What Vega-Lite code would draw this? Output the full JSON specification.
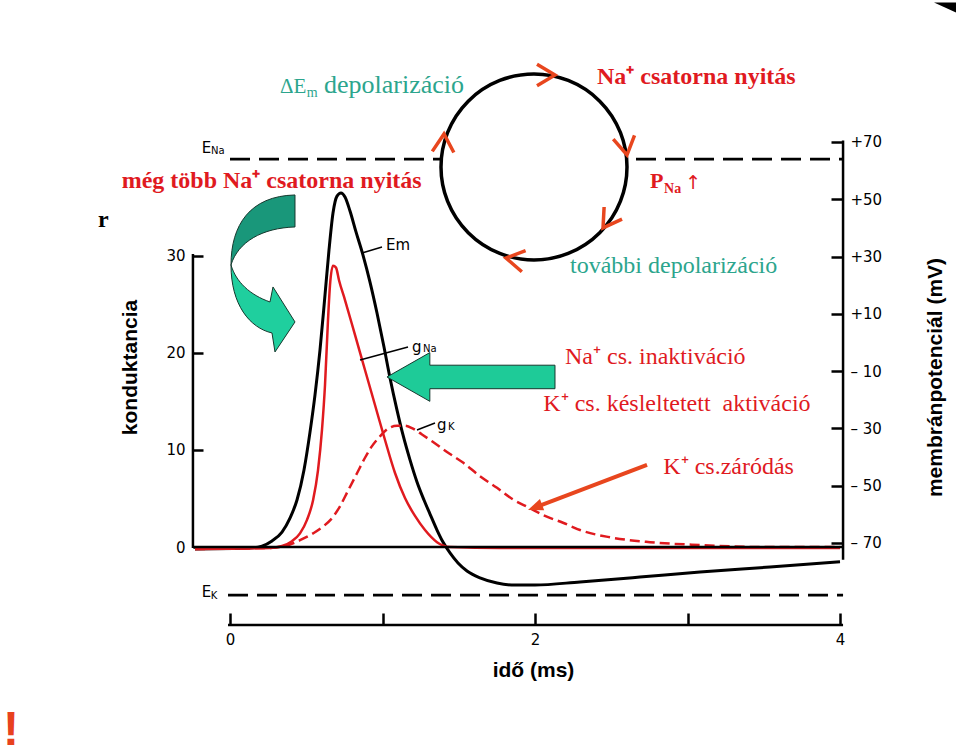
{
  "$schema": "https://vega.github.io/schema/vega-lite/v6.json",
  "width": 959,
  "height": 751,
  "autosize": {"type": "none"},
  "padding": 0,
  "background": "white",
  "config": {"view": {"stroke": null}},
  "encoding": {
    "x": {
      "field": "t", "type": "quantitative",
      "scale": {"domain": [-1.5082, 4.7803], "nice": false, "zero": false},
      "axis": {
        "orient": "bottom", "offset": -126, "values": [0, 1, 2, 3, 4],
        "domain": false, "grid": false,
        "tickSize": -12, "tickWidth": 2.5, "tickColor": "black",
        "labelExpr": "datum.value % 2 === 0 ? datum.label : ''",
        "labelFont": "DejaVu Sans", "labelFontSize": 15, "labelColor": "black",
        "labelPadding": 19, "labelOverlap": false, "labelFlush": false, "labelBaseline": "top",
        "title": "idő (ms)", "titleFont": "Liberation Sans", "titleFontSize": 21,
        "titleFontWeight": "bold", "titleColor": "black",
        "titleX": 533, "titleY": 45, "titleAlign": "center", "titleBaseline": "middle", "titleAngle": 0
      }
    }
  },
  "layer": [
    {
      "encoding": {
        "y": {
          "field": "mV", "type": "quantitative",
          "scale": {"domain": [-142.64, 119.58], "nice": false, "zero": false},
          "axis": {
            "orient": "right", "offset": -116,
            "values": [-70, -50, -30, -10, 10, 30, 50, 70],
            "domain": false, "grid": false,
            "tickSize": -12, "tickWidth": 2.5, "tickColor": "black",
            "labelExpr": "datum.value > 0 ? '+' + datum.value : '– ' + abs(datum.value)",
            "labelFont": "DejaVu Sans", "labelFontSize": 15, "labelColor": "black",
            "labelPadding": 19, "labelOverlap": false, "labelFlush": false,
            "title": "membránpotenciál (mV)", "titleFont": "Liberation Sans", "titleFontSize": 21,
            "titleFontWeight": "bold", "titleColor": "black",
            "titleX": 92, "titleY": 377, "titleAngle": 270, "titleAlign": "center", "titleBaseline": "middle"
          }
        }
      },
      "layer": [
        {
          "data": {"values": [
            {"t": 0, "t2": 4.02, "mV": 64, "name": "ENa"},
            {"t": -0.013, "t2": 4.02, "mV": -88.2, "name": "EK"}
          ]},
          "mark": {"type": "rule", "color": "black", "strokeWidth": 2.8, "strokeDash": [20, 9]},
          "encoding": {"x2": {"field": "t2"}}
        },
        {
          "data": {"values": [{"t": 4.02, "mV": 70.5, "mV2": -75.9}]},
          "mark": {"type": "rule", "color": "black", "strokeWidth": 2.5},
          "encoding": {"y2": {"field": "mV2"}}
        },
        {
          "data": {"values": [
            {"t": -0.2295, "mV": -72.1}, {"t": 0.1311, "mV": -71.8}, {"t": 0.2098, "mV": -71.1},
            {"t": 0.2754, "mV": -69.3}, {"t": 0.341, "mV": -66.2}, {"t": 0.3934, "mV": -61.3},
            {"t": 0.4393, "mV": -55.0}, {"t": 0.4852, "mV": -44.5}, {"t": 0.5246, "mV": -31.3},
            {"t": 0.5574, "mV": -18.3}, {"t": 0.5902, "mV": -2.6}, {"t": 0.623, "mV": 16.6},
            {"t": 0.6492, "mV": 32.3}, {"t": 0.6754, "mV": 45.2}, {"t": 0.7016, "mV": 51.1},
            {"t": 0.7279, "mV": 52.2}, {"t": 0.7541, "mV": 50.8}, {"t": 0.7869, "mV": 45.9},
            {"t": 0.8262, "mV": 38.6}, {"t": 0.8721, "mV": 30.5}, {"t": 0.918, "mV": 21.1},
            {"t": 0.9639, "mV": 10.3}, {"t": 1.0098, "mV": -1.6}, {"t": 1.0492, "mV": -12.4},
            {"t": 1.0951, "mV": -23.6}, {"t": 1.1344, "mV": -32.3}, {"t": 1.1803, "mV": -41.0},
            {"t": 1.2262, "mV": -48.7}, {"t": 1.2721, "mV": -55.0}, {"t": 1.3115, "mV": -59.9},
            {"t": 1.3574, "mV": -65.5}, {"t": 1.3967, "mV": -69.7}, {"t": 1.4426, "mV": -73.5},
            {"t": 1.4951, "mV": -77.0}, {"t": 1.5541, "mV": -79.8}, {"t": 1.6393, "mV": -82.2},
            {"t": 1.7508, "mV": -84.0}, {"t": 1.8689, "mV": -84.7}, {"t": 2.0, "mV": -84.7},
            {"t": 2.2951, "mV": -83.6}, {"t": 2.6885, "mV": -81.9}, {"t": 3.082, "mV": -80.1},
            {"t": 3.541, "mV": -78.4}, {"t": 4.0, "mV": -76.6}
          ]},
          "mark": {"type": "line", "color": "black", "strokeWidth": 3, "interpolate": "monotone"},
          "encoding": {}
        }
      ]
    },
    {
      "encoding": {
        "y": {
          "field": "g", "type": "quantitative",
          "scale": {"domain": [-21.03, 56.39], "nice": false, "zero": false},
          "axis": {
            "orient": "left", "offset": -193, "values": [0, 10, 20, 30],
            "domain": false, "grid": false,
            "tickSize": -10, "tickWidth": 2.5, "tickColor": "black",
            "labelFont": "DejaVu Sans", "labelFontSize": 15, "labelColor": "black",
            "labelPadding": 18, "labelOverlap": false, "labelFlush": false,
            "title": "konduktancia", "titleFont": "Liberation Sans", "titleFontSize": 21,
            "titleFontWeight": "bold", "titleColor": "black",
            "titleX": -63, "titleY": 367, "titleAngle": 270, "titleAlign": "center", "titleBaseline": "middle"
          }
        }
      },
      "layer": [
        {
          "data": {"values": [
            {"t": -0.2295, "g": -0.2}, {"t": 0.2623, "g": -0.1}, {"t": 0.341, "g": 0.1},
            {"t": 0.4066, "g": 0.6}, {"t": 0.459, "g": 1.4}, {"t": 0.5049, "g": 2.8},
            {"t": 0.5443, "g": 4.8}, {"t": 0.577, "g": 7.9}, {"t": 0.6033, "g": 12.1},
            {"t": 0.623, "g": 16.7}, {"t": 0.6426, "g": 23.4}, {"t": 0.6557, "g": 27.0},
            {"t": 0.6754, "g": 29.0}, {"t": 0.6951, "g": 28.8}, {"t": 0.7148, "g": 27.5},
            {"t": 0.7541, "g": 25.46}, {"t": 0.8197, "g": 21.86}, {"t": 0.8852, "g": 18.25},
            {"t": 0.9508, "g": 14.64}, {"t": 1.0164, "g": 11.03}, {"t": 1.082, "g": 7.63},
            {"t": 1.1475, "g": 5.05}, {"t": 1.2131, "g": 3.2}, {"t": 1.2787, "g": 1.75},
            {"t": 1.3574, "g": 0.5}, {"t": 1.4426, "g": 0.0}, {"t": 1.7705, "g": -0.1},
            {"t": 4.0, "g": -0.1}
          ]},
          "mark": {"type": "line", "color": "#e01a1f", "strokeWidth": 2.5, "interpolate": "monotone"},
          "encoding": {}
        },
        {
          "data": {"values": [
            {"t": -0.2295, "g": -0.2}, {"t": 0.2623, "g": -0.1}, {"t": 0.3607, "g": 0.1},
            {"t": 0.459, "g": 0.7}, {"t": 0.5443, "g": 1.4}, {"t": 0.6098, "g": 2.1},
            {"t": 0.6754, "g": 3.1}, {"t": 0.7213, "g": 4.2}, {"t": 0.7738, "g": 5.8},
            {"t": 0.8328, "g": 7.6}, {"t": 0.8852, "g": 9.2}, {"t": 0.9311, "g": 10.4},
            {"t": 0.9836, "g": 11.4}, {"t": 1.036, "g": 12.2}, {"t": 1.0951, "g": 12.5},
            {"t": 1.1475, "g": 12.5}, {"t": 1.2, "g": 12.2}, {"t": 1.259, "g": 11.6},
            {"t": 1.3246, "g": 10.9}, {"t": 1.423, "g": 9.8}, {"t": 1.5279, "g": 8.7},
            {"t": 1.6393, "g": 7.3}, {"t": 1.7508, "g": 6.1}, {"t": 1.8557, "g": 4.9},
            {"t": 1.9541, "g": 4.1}, {"t": 2.0656, "g": 3.2}, {"t": 2.1836, "g": 2.5},
            {"t": 2.2951, "g": 1.75}, {"t": 2.4918, "g": 1.0}, {"t": 2.7541, "g": 0.5},
            {"t": 3.082, "g": 0.2}, {"t": 3.4754, "g": 0.0}, {"t": 4.0, "g": 0.0}
          ]},
          "mark": {"type": "line", "color": "#e01a1f", "strokeWidth": 2.5, "strokeDash": [10, 5], "interpolate": "monotone"},
          "encoding": {}
        },
        {
          "data": {"values": [
            {"t": -0.243, "t2": 4.02, "g": 0, "name": "baseline"},
            {"t": -0.013, "t2": 4.02, "g": -8.04, "name": "time axis"}
          ]},
          "mark": {"type": "rule", "color": "black", "strokeWidth": 2.5},
          "encoding": {"x2": {"field": "t2"}}
        },
        {
          "data": {"values": [{"t": -0.243, "g": -0.1, "g2": 30.2}]},
          "mark": {"type": "rule", "color": "black", "strokeWidth": 2.5},
          "encoding": {"y2": {"field": "g2"}}
        },
        {
          "data": {"values": [{"t": 1.9934, "g": 39.18}]},
          "mark": {"type": "point", "shape": "circle", "size": 34596, "filled": true, "fill": "white", "stroke": "black", "strokeWidth": 3.5, "opacity": 1},
          "encoding": {}
        },
        {
          "data": {"values": [
            {"t": 2.1311, "g": 48.66, "dir": 0},
            {"t": 2.6033, "g": 40.41, "dir": 80},
            {"t": 2.4459, "g": 32.89, "dir": 124},
            {"t": 1.8098, "g": 29.79, "dir": 190},
            {"t": 1.4033, "g": 42.58, "dir": 273}
          ]},
          "mark": {"type": "point", "shape": "M-1,-0.6L0,0L-1,0.6", "size": 1296, "filled": false, "color": "#e8461e", "strokeWidth": 3.5, "opacity": 1},
          "encoding": {"angle": {"field": "dir", "type": "quantitative", "scale": null}}
        },
        {
          "data": {"values": [{"t": 0.2098, "g": 28.25}]},
          "mark": {"type": "point", "shape": "M-0.3875,-0.1C-0.3875,0.4,-0.15,0.6875,0.125,0.75L0.1625,0.9875L0.4125,0.6125L0.1375,0.175L0.1,0.3625C-0.15,0.275,-0.325,0.1125,-0.3875,-0.1Z", "size": 25600, "filled": true, "fill": "#1fcf9e", "stroke": "#17382e", "strokeWidth": 1, "opacity": 1},
          "encoding": {}
        },
        {
          "data": {"values": [{"t": 0.2098, "g": 28.25}]},
          "mark": {"type": "point", "shape": "M0.4125,-0.975C-0.15,-0.9625,-0.3875,-0.6,-0.3875,-0.1C-0.3,-0.3875,0,-0.5625,0.4125,-0.575Z", "size": 25600, "filled": true, "fill": "#19977a", "stroke": "#17382e", "strokeWidth": 1, "opacity": 1},
          "encoding": {}
        },
        {
          "data": {"values": [{"t": 1.5803, "g": 17.53}]},
          "mark": {"type": "point", "shape": "M-1,0L-0.49,-0.29L-0.49,-0.14L1,-0.14L1,0.14L-0.49,0.14L-0.49,0.29Z", "size": 28224, "filled": true, "fill": "#1ecb98", "stroke": "#17382e", "strokeWidth": 1, "opacity": 1},
          "encoding": {}
        },
        {
          "data": {"values": [{"t": 2.7344, "g": 8.454, "t2": 2.0066, "g2": 4.12}]},
          "mark": {"type": "rule", "color": "#e8461e", "strokeWidth": 4},
          "encoding": {"x2": {"field": "t2"}, "y2": {"field": "g2"}}
        },
        {
          "data": {"values": [{"t": 1.9541, "g": 3.814, "dir": 159.3}]},
          "mark": {"type": "point", "shape": "M0,0L-2,-0.8L-2,0.8Z", "size": 225, "filled": true, "color": "#e8461e", "opacity": 1},
          "encoding": {"angle": {"field": "dir", "type": "quantitative", "scale": null}}
        },
        {
          "data": {"values": [
            {"t": 0.8656, "g": 30.31, "t2": 0.9967, "g2": 30.93},
            {"t": 0.8525, "g": 19.28, "t2": 1.1672, "g2": 20.62},
            {"t": 1.2262, "g": 12.06, "t2": 1.3443, "g2": 12.78}
          ]},
          "mark": {"type": "rule", "color": "black", "strokeWidth": 1.5},
          "encoding": {"x2": {"field": "t2"}, "y2": {"field": "g2"}}
        },
        {
          "data": {"values": [
            {"t": -0.7102, "g": 36.98, "txt": "még több Na⁺ csatorna nyitás"},
            {"t": 2.4066, "g": 47.73, "txt": "Na⁺ csatorna nyitás"}
          ]},
          "mark": {"type": "text", "font": "Liberation Serif", "fontWeight": "bold", "fontSize": 24, "color": "#e01a1f", "align": "left", "baseline": "alphabetic"},
          "encoding": {"text": {"field": "txt"}}
        },
        {
          "data": {"values": [{"t": 2.7541, "g": 36.98, "txt": "P"}]},
          "mark": {"type": "text", "font": "Liberation Serif", "fontWeight": "bold", "fontSize": 22, "color": "#e01a1f", "align": "left", "baseline": "alphabetic"},
          "encoding": {"text": {"field": "txt"}}
        },
        {
          "data": {"values": [{"t": 2.846, "g": 36.53, "txt": "Na"}]},
          "mark": {"type": "text", "font": "Liberation Serif", "fontWeight": "bold", "fontSize": 14, "color": "#e01a1f", "align": "left", "baseline": "alphabetic"},
          "encoding": {"text": {"field": "txt"}}
        },
        {
          "data": {"values": [{"t": 2.985, "g": 36.9, "txt": "↑"}]},
          "mark": {"type": "text", "font": "DejaVu Sans", "fontSize": 19, "color": "#e01a1f", "align": "left", "baseline": "alphabetic"},
          "encoding": {"text": {"field": "txt"}}
        },
        {
          "data": {"values": [
            {"t": 2.1967, "g": 18.84, "txt": "Na⁺ cs. inaktiváció"},
            {"t": 2.0546, "g": 14.02, "txt": "K⁺ cs. késleltetett\u00a0 aktiváció"},
            {"t": 2.8413, "g": 7.53, "txt": "K⁺ cs.záródás"}
          ]},
          "mark": {"type": "text", "font": "Liberation Serif", "fontSize": 24, "color": "#e01a1f", "align": "left", "baseline": "alphabetic"},
          "encoding": {"text": {"field": "txt"}}
        },
        {
          "data": {"values": [{"t": 0.3279, "g": 46.77, "txt": "ΔE"}]},
          "mark": {"type": "text", "font": "Liberation Serif", "fontSize": 21, "color": "#2ca58d", "align": "left", "baseline": "alphabetic"},
          "encoding": {"text": {"field": "txt"}}
        },
        {
          "data": {"values": [
            {"t": 0.6164, "g": 46.77, "txt": "depolarizáció"}
          ]},
          "mark": {"type": "text", "font": "Liberation Serif", "fontSize": 26, "color": "#2ca58d", "align": "left", "baseline": "alphabetic"},
          "encoding": {"text": {"field": "txt"}}
        },
        {
          "data": {"values": [
            {"t": 2.2295, "g": 28.22, "txt": "további depolarizáció"}
          ]},
          "mark": {"type": "text", "font": "Liberation Serif", "fontSize": 24, "color": "#2ca58d", "align": "left", "baseline": "alphabetic"},
          "encoding": {"text": {"field": "txt"}}
        },
        {
          "data": {"values": [{"t": 0.5033, "g": 46.39, "txt": "m"}]},
          "mark": {"type": "text", "font": "Liberation Serif", "fontSize": 14, "color": "#2ca58d", "align": "left", "baseline": "alphabetic"},
          "encoding": {"text": {"field": "txt"}}
        },
        {
          "data": {"values": [
            {"t": 1.023, "g": 31.13, "txt": "Em"},
            {"t": 1.1934, "g": 20.62, "txt": "g"},
            {"t": 1.3574, "g": 12.58, "txt": "g"},
            {"t": -0.1856, "g": 41.13, "txt": "E"},
            {"t": -0.1856, "g": -4.69, "txt": "E"}
          ]},
          "mark": {"type": "text", "font": "DejaVu Sans", "fontSize": 15, "color": "black", "align": "left", "baseline": "middle"},
          "encoding": {"text": {"field": "txt"}}
        },
        {
          "data": {"values": [
            {"t": 1.2656, "g": 20.41, "txt": "Na"},
            {"t": 1.4295, "g": 12.37, "txt": "K"},
            {"t": -0.1246, "g": 40.82, "txt": "Na"},
            {"t": -0.1266, "g": -5.05, "txt": "K"}
          ]},
          "mark": {"type": "text", "font": "DejaVu Sans", "fontSize": 10, "color": "black", "align": "left", "baseline": "middle"},
          "encoding": {"text": {"field": "txt"}}
        },
        {
          "data": {"values": [{"t": -0.8656, "g": 33.02, "txt": "r"}]},
          "mark": {"type": "text", "font": "Liberation Serif", "fontWeight": "bold", "fontSize": 24, "color": "black", "align": "left", "baseline": "alphabetic"},
          "encoding": {"text": {"field": "txt"}}
        },
        {
          "data": {"values": [{"t": -1.4885, "g": -20.4, "txt": "!"}]},
          "mark": {"type": "text", "font": "Liberation Sans", "fontWeight": "bold", "fontSize": 48, "color": "#e8411e", "align": "left", "baseline": "alphabetic"},
          "encoding": {"text": {"field": "txt"}}
        },
        {
          "data": {"values": [{"t": 4.6885, "g": 55.67}]},
          "mark": {"type": "point", "shape": "M-1,-0.4L1,-0.4L1,0.5Z", "size": 484, "filled": true, "color": "black", "opacity": 1},
          "encoding": {}
        }
      ]
    }
  ],
  "resolve": {"scale": {"y": "independent"}}
}
